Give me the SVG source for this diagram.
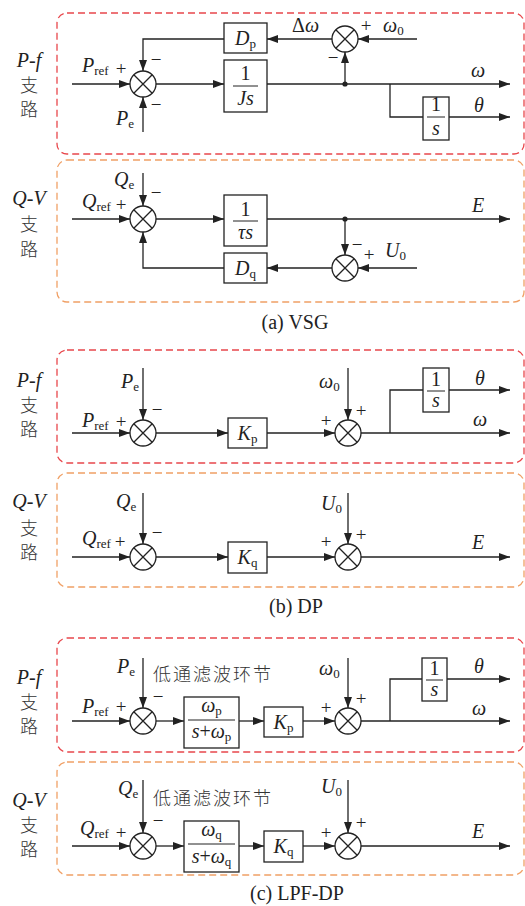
<svg xmlns="http://www.w3.org/2000/svg" xmlns:xlink="http://www.w3.org/1999/xlink" width="525" height="906" viewBox="0 0 525 906">
<style>
.ln{stroke:#222;stroke-width:1.3;fill:none}
.ar{marker-end:url(#ah)}
.bx{fill:#fff;stroke:#222;stroke-width:1.3}
.fr{stroke:#222;stroke-width:1}
.t{font-family:"Liberation Serif","Times New Roman",serif;font-size:20px;fill:#222}
.i{font-style:italic}
.s{font-size:13px;font-style:normal}
.op{font-family:"Liberation Serif",serif;font-size:19px;fill:#222}
.cj{font-family:"Noto Sans CJK SC","Noto Sans",sans-serif;font-size:18px;font-weight:300;fill:#333}
.lp{letter-spacing:2px}
.cap{font-family:"Liberation Serif","Times New Roman",serif;font-size:20px;fill:#222}
.red{stroke:#e8474c;stroke-width:1.3;stroke-dasharray:7 4;fill:none}
.org{stroke:#f0a066;stroke-width:1.3;stroke-dasharray:7 4;fill:none}
.dot{fill:#222}
</style>
<defs>
<marker id="ah" markerUnits="userSpaceOnUse" markerWidth="11" markerHeight="8" refX="11" refY="4" orient="auto"><path d="M0,0 L11,4 L0,8 z" fill="#222"/></marker>
<g id="sum"><circle r="13" fill="#fff" stroke="#222" stroke-width="1.3"/><path d="M-9.2,-9.2L9.2,9.2M-9.2,9.2L9.2,-9.2" stroke="#222" stroke-width="1.3"/></g>
</defs>

<!-- ===== (a) VSG ===== -->
<g id="a-pf-frame"><rect class="red" x="57" y="13" width="467" height="141" rx="10"/>
<text class="t i" x="29" y="67" text-anchor="middle">P-f</text>
<text class="cj" x="29" y="92" text-anchor="middle">支</text>
<text class="cj" x="29" y="116" text-anchor="middle">路</text></g>
<g id="a-qv-frame"><rect class="org" x="57" y="160" width="467" height="142" rx="10"/>
<text class="t i" x="29" y="205" text-anchor="middle">Q-V</text>
<text class="cj" x="29" y="231" text-anchor="middle">支</text>
<text class="cj" x="29" y="256" text-anchor="middle">路</text></g>

<g id="connectors">
<path class="ln ar" d="M72,84H130"/>
<path class="ln ar" d="M156,84H224"/>
<path class="ln ar" d="M267,84H510"/>
<path class="ln" d="M390,84V117H423"/>
<path class="ln ar" d="M449,117H510"/>
<path class="ln ar" d="M345,84V52"/>
<path class="ln ar" d="M417,39H358"/>
<path class="ln ar" d="M332,39H267"/>
<path class="ln ar" d="M224,39H143V71"/>
<path class="ln ar" d="M143,132V97"/>
<circle class="dot" cx="345" cy="84" r="2.6"/>

<path class="ln ar" d="M72,219H130"/>
<path class="ln ar" d="M143,173V206"/>
<path class="ln ar" d="M156,219H224"/>
<path class="ln ar" d="M267,219H510"/>
<path class="ln ar" d="M345,219V255"/>
<path class="ln ar" d="M417,268H358"/>
<path class="ln ar" d="M332,268H267"/>
<path class="ln ar" d="M224,268H143V232"/>
<circle class="dot" cx="345" cy="219" r="2.6"/>

<path class="ln ar" d="M72,433H130"/>
<path class="ln ar" d="M143,368V420"/>
<path class="ln ar" d="M156,433H228"/>
<path class="ln ar" d="M267,433H335"/>
<path class="ln ar" d="M348,368V420"/>
<path class="ln ar" d="M361,433H510"/>
<path class="ln" d="M390,433V390H423"/>
<path class="ln ar" d="M449,390H510"/>

<path class="ln ar" d="M72,557H130"/>
<path class="ln ar" d="M143,493V544"/>
<path class="ln ar" d="M156,557H228"/>
<path class="ln ar" d="M267,557H335"/>
<path class="ln ar" d="M348,493V544"/>
<path class="ln ar" d="M361,557H510"/>

<path class="ln ar" d="M72,721H130"/>
<path class="ln ar" d="M143,658V708"/>
<path class="ln ar" d="M156,721H184"/>
<path class="ln ar" d="M239,721H264"/>
<path class="ln ar" d="M303,721H335"/>
<path class="ln ar" d="M348,658V708"/>
<path class="ln ar" d="M361,721H510"/>
<path class="ln" d="M390,721V679H422"/>
<path class="ln ar" d="M447,679H510"/>

<path class="ln ar" d="M72,846H130"/>
<path class="ln ar" d="M143,780V833"/>
<path class="ln ar" d="M156,846H184"/>
<path class="ln ar" d="M239,846H264"/>
<path class="ln ar" d="M303,846H335"/>
<path class="ln ar" d="M348,780V833"/>
<path class="ln ar" d="M361,846H510"/>
</g>

<!-- (a) P-f nodes -->
<g id="a-s1"><use xlink:href="#sum" x="143" y="84"/>
<text class="t" x="82" y="72"><tspan class="i">P</tspan><tspan class="s" dy="3">ref</tspan></text>
<text class="op" x="121" y="75" text-anchor="middle">+</text>
<text class="op" x="156" y="66" text-anchor="middle">−</text>
<text class="op" x="156" y="111" text-anchor="middle">−</text>
<text class="t" x="116" y="125"><tspan class="i">P</tspan><tspan class="s" dy="3">e</tspan></text></g>
<g id="a-js"><rect class="bx" x="224" y="60" width="43" height="52"/>
<text class="t" x="245.5" y="80" text-anchor="middle">1</text>
<line class="fr" x1="233" y1="86" x2="258" y2="86"/>
<text class="t i" x="245.5" y="105" text-anchor="middle">Js</text></g>
<g id="a-dp"><rect class="bx" x="224" y="23" width="43" height="30"/>
<text class="t" x="245.5" y="45" text-anchor="middle"><tspan class="i">D</tspan><tspan class="s" dy="3">p</tspan></text></g>
<g id="a-s2"><use xlink:href="#sum" x="345" y="39"/>
<text class="t" x="292" y="32">Δ<tspan class="i">ω</tspan></text>
<text class="op" x="366" y="32" text-anchor="middle">+</text>
<text class="op" x="333" y="64" text-anchor="middle">−</text>
<text class="t" x="383" y="32"><tspan class="i">ω</tspan><tspan class="s" dy="3">0</tspan></text></g>
<g id="a-int"><rect class="bx" x="423" y="97" width="26" height="43"/>
<text class="t" x="436" y="111" text-anchor="middle">1</text>
<line class="fr" x1="427" y1="117" x2="445" y2="117"/>
<text class="t i" x="436" y="135" text-anchor="middle">s</text></g>
<g id="a-out"><text class="t i" x="478" y="77" text-anchor="middle">ω</text>
<text class="t i" x="479" y="112" text-anchor="middle">θ</text></g>

<!-- (a) Q-V nodes -->
<g id="a-q1"><use xlink:href="#sum" x="143" y="219"/>
<text class="t" x="82" y="208"><tspan class="i">Q</tspan><tspan class="s" dy="3">ref</tspan></text>
<text class="op" x="121" y="211" text-anchor="middle">+</text>
<text class="t" x="114" y="186"><tspan class="i">Q</tspan><tspan class="s" dy="3">e</tspan></text>
<text class="op" x="156" y="199" text-anchor="middle">−</text></g>
<g id="a-ts"><rect class="bx" x="224" y="195" width="43" height="51"/>
<text class="t" x="245.5" y="216" text-anchor="middle">1</text>
<line class="fr" x1="233" y1="221" x2="258" y2="221"/>
<text class="t i" x="245.5" y="239" text-anchor="middle">τs</text></g>
<g id="a-q2"><use xlink:href="#sum" x="345" y="268"/>
<text class="op" x="357" y="251" text-anchor="middle">−</text>
<text class="op" x="369" y="261" text-anchor="middle">+</text>
<text class="t" x="385" y="257"><tspan class="i">U</tspan><tspan class="s" dy="3">0</tspan></text></g>
<g id="a-dq"><rect class="bx" x="224" y="253" width="43" height="30"/>
<text class="t" x="245.5" y="275" text-anchor="middle"><tspan class="i">D</tspan><tspan class="s" dy="3">q</tspan></text></g>
<g id="a-E"><text class="t i" x="478" y="212" text-anchor="middle">E</text></g>
<g id="cap-a"><text class="cap" x="295" y="329" text-anchor="middle">(a) VSG</text></g>

<!-- ===== (b) DP ===== -->
<g id="b-pf-frame"><rect class="red" x="57" y="350" width="467" height="113" rx="10"/>
<text class="t i" x="29" y="387" text-anchor="middle">P-f</text>
<text class="cj" x="29" y="412" text-anchor="middle">支</text>
<text class="cj" x="29" y="436" text-anchor="middle">路</text></g>
<g id="b-s1"><use xlink:href="#sum" x="143" y="433"/>
<text class="t" x="121" y="388"><tspan class="i">P</tspan><tspan class="s" dy="3">e</tspan></text>
<text class="op" x="157" y="416" text-anchor="middle">−</text>
<text class="t" x="82" y="427"><tspan class="i">P</tspan><tspan class="s" dy="3">ref</tspan></text>
<text class="op" x="121" y="428" text-anchor="middle">+</text></g>
<g id="b-kp"><rect class="bx" x="228" y="418" width="39" height="30"/>
<text class="t" x="247.5" y="440" text-anchor="middle"><tspan class="i">K</tspan><tspan class="s" dy="3">p</tspan></text></g>
<g id="b-s2"><use xlink:href="#sum" x="348" y="433"/>
<text class="t" x="319" y="388"><tspan class="i">ω</tspan><tspan class="s" dy="3">0</tspan></text>
<text class="op" x="326" y="427" text-anchor="middle">+</text>
<text class="op" x="361" y="417" text-anchor="middle">+</text></g>
<g id="b-int"><rect class="bx" x="423" y="368" width="26" height="44"/>
<text class="t" x="436" y="386" text-anchor="middle">1</text>
<line class="fr" x1="427" y1="391" x2="445" y2="391"/>
<text class="t i" x="436" y="407" text-anchor="middle">s</text></g>
<g id="b-out"><text class="t i" x="480" y="385" text-anchor="middle">θ</text>
<text class="t i" x="480" y="426" text-anchor="middle">ω</text></g>

<g id="b-qv-frame"><rect class="org" x="57" y="473" width="467" height="114" rx="10"/>
<text class="t i" x="29" y="508" text-anchor="middle">Q-V</text>
<text class="cj" x="29" y="535" text-anchor="middle">支</text>
<text class="cj" x="29" y="559" text-anchor="middle">路</text></g>
<g id="b-q1"><use xlink:href="#sum" x="143" y="557"/>
<text class="t" x="116" y="508"><tspan class="i">Q</tspan><tspan class="s" dy="3">e</tspan></text>
<text class="op" x="157" y="539" text-anchor="middle">−</text>
<text class="t" x="82" y="545"><tspan class="i">Q</tspan><tspan class="s" dy="3">ref</tspan></text>
<text class="op" x="120" y="548" text-anchor="middle">+</text></g>
<g id="b-kq"><rect class="bx" x="228" y="542" width="39" height="31"/>
<text class="t" x="247.5" y="564" text-anchor="middle"><tspan class="i">K</tspan><tspan class="s" dy="3">q</tspan></text></g>
<g id="b-q2"><use xlink:href="#sum" x="348" y="557"/>
<text class="t" x="321" y="510"><tspan class="i">U</tspan><tspan class="s" dy="3">0</tspan></text>
<text class="op" x="326" y="548" text-anchor="middle">+</text>
<text class="op" x="361" y="541" text-anchor="middle">+</text></g>
<g id="b-E"><text class="t i" x="478" y="549" text-anchor="middle">E</text></g>
<g id="cap-b"><text class="cap" x="296" y="613" text-anchor="middle">(b) DP</text></g>

<!-- ===== (c) LPF-DP ===== -->
<g id="c-pf-frame"><rect class="red" x="57" y="638" width="467" height="114" rx="10"/>
<text class="t i" x="29" y="684" text-anchor="middle">P-f</text>
<text class="cj" x="29" y="709" text-anchor="middle">支</text>
<text class="cj" x="29" y="733" text-anchor="middle">路</text></g>
<g id="c-s1"><use xlink:href="#sum" x="143" y="721"/>
<text class="t" x="117" y="673"><tspan class="i">P</tspan><tspan class="s" dy="3">e</tspan></text>
<text class="cj lp" x="153" y="681">低通滤波环节</text>
<text class="op" x="158" y="703" text-anchor="middle">−</text>
<text class="t" x="82" y="713"><tspan class="i">P</tspan><tspan class="s" dy="3">ref</tspan></text>
<text class="op" x="121" y="713" text-anchor="middle">+</text></g>
<g id="c-lpf"><rect class="bx" x="184" y="697" width="55" height="51"/>
<text class="t" x="211.5" y="712" text-anchor="middle"><tspan class="i">ω</tspan><tspan class="s" dy="3">p</tspan></text>
<line class="fr" x1="188" y1="720" x2="235" y2="720"/>
<text class="t" x="211.5" y="738" text-anchor="middle"><tspan class="i">s</tspan>+<tspan class="i">ω</tspan><tspan class="s" dy="3">p</tspan></text></g>
<g id="c-kp"><rect class="bx" x="264" y="707" width="39" height="30"/>
<text class="t" x="283.5" y="729" text-anchor="middle"><tspan class="i">K</tspan><tspan class="s" dy="3">p</tspan></text></g>
<g id="c-s2"><use xlink:href="#sum" x="348" y="721"/>
<text class="t" x="319" y="675"><tspan class="i">ω</tspan><tspan class="s" dy="3">0</tspan></text>
<text class="op" x="326" y="714" text-anchor="middle">+</text>
<text class="op" x="361" y="705" text-anchor="middle">+</text></g>
<g id="c-int"><rect class="bx" x="422" y="658" width="25" height="43"/>
<text class="t" x="434.5" y="675" text-anchor="middle">1</text>
<line class="fr" x1="426" y1="680" x2="443" y2="680"/>
<text class="t i" x="434.5" y="696" text-anchor="middle">s</text></g>
<g id="c-out"><text class="t i" x="479" y="673" text-anchor="middle">θ</text>
<text class="t i" x="479" y="715" text-anchor="middle">ω</text></g>

<g id="c-qv-frame"><rect class="org" x="57" y="762" width="467" height="113" rx="10"/>
<text class="t i" x="29" y="807" text-anchor="middle">Q-V</text>
<text class="cj" x="29" y="832" text-anchor="middle">支</text>
<text class="cj" x="29" y="856" text-anchor="middle">路</text></g>
<g id="c-q1"><use xlink:href="#sum" x="143" y="846"/>
<text class="t" x="118" y="795"><tspan class="i">Q</tspan><tspan class="s" dy="3">e</tspan></text>
<text class="cj lp" x="153" y="805">低通滤波环节</text>
<text class="op" x="158" y="827" text-anchor="middle">−</text>
<text class="t" x="80" y="835"><tspan class="i">Q</tspan><tspan class="s" dy="3">ref</tspan></text>
<text class="op" x="121" y="839" text-anchor="middle">+</text></g>
<g id="c-lpf2"><rect class="bx" x="184" y="821" width="55" height="51"/>
<text class="t" x="211.5" y="836" text-anchor="middle"><tspan class="i">ω</tspan><tspan class="s" dy="3">q</tspan></text>
<line class="fr" x1="188" y1="844" x2="235" y2="844"/>
<text class="t" x="211.5" y="863" text-anchor="middle"><tspan class="i">s</tspan>+<tspan class="i">ω</tspan><tspan class="s" dy="3">q</tspan></text></g>
<g id="c-kq"><rect class="bx" x="264" y="831" width="39" height="31"/>
<text class="t" x="283.5" y="853" text-anchor="middle"><tspan class="i">K</tspan><tspan class="s" dy="3">q</tspan></text></g>
<g id="c-q2"><use xlink:href="#sum" x="348" y="846"/>
<text class="t" x="321" y="793"><tspan class="i">U</tspan><tspan class="s" dy="3">0</tspan></text>
<text class="op" x="326" y="839" text-anchor="middle">+</text>
<text class="op" x="361" y="829" text-anchor="middle">+</text></g>
<g id="c-E"><text class="t i" x="478" y="838" text-anchor="middle">E</text></g>
<g id="cap-c"><text class="cap" x="297" y="900" text-anchor="middle">(c) LPF-DP</text></g>
</svg>
